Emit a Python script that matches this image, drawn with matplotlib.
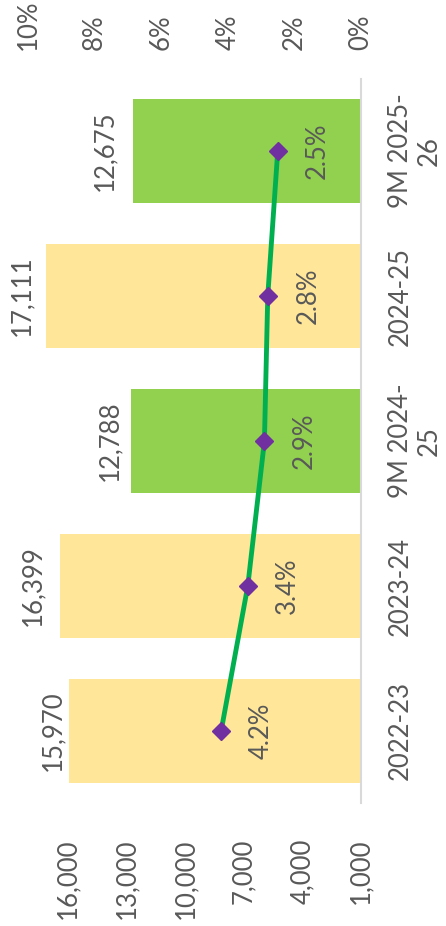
import matplotlib
matplotlib.use('Agg')
import matplotlib.pyplot as plt

# data
periods = ['2022-23', '2023-24', '9M 2024-\n25', '2024-25', '9M 2025-\n26']
values = [15970, 16399, 12788, 17111, 12675]
pct = [4.2, 3.4, 2.9, 2.8, 2.5]
value_ticks = [1000, 4000, 7000, 10000, 13000, 16000]
pct_ticks = [0, 2, 4, 6, 8, 10]

# style
bar_colors = ['#FFE699', '#FFE699', '#92D050', '#FFE699', '#92D050']
label_nudge = [-16, -28, -21, -25, -28]  # px, value labels beside bar ends
grey = '#595959'

plt.rcParams['font.family'] = ['Lato', 'DejaVu Sans']

fig = plt.figure(figsize=(4.46, 9.26), dpi=100)
ax = fig.add_axes([0.0628, 0.1323, 0.7466, 0.7829])
pos = list(range(len(periods)))

# chart is drawn turned a quarter turn: bars grow leftwards from the base line
ax.barh(pos, [v - value_ticks[0] for v in values], left=value_ticks[0],
        height=0.717, color=bar_colors)
ax.set_xlim(18050, value_ticks[0])
ax.set_ylim(-0.5, len(periods) - 0.5)
ax.set_xticks(value_ticks)
ax.set_xticklabels([f'{v:,}' for v in value_ticks], rotation=90)
ax.tick_params(axis='x', length=0, pad=25, labelsize=18.5, labelcolor=grey)
ax.yaxis.tick_right()
ax.set_yticks(pos)
ax.set_yticklabels(periods, rotation=90, va='center', ha='left',
                   multialignment='center')
ax.tick_params(axis='y', length=0, pad=19.5, labelsize=18.5, labelcolor=grey)
for s in ['left', 'top', 'bottom']:
    ax.spines[s].set_visible(False)
ax.spines['right'].set_color('#D9D9D9')
ax.spines['right'].set_linewidth(1.5)

for v, p, dx in zip(values, pos, label_nudge):
    ax.annotate(f'{v:,}', xy=(v, p), xytext=(dx, 0), textcoords='offset pixels',
                rotation=90, ha='center', va='center', fontsize=18.5, color=grey)

# percentage line on the second axis
ax2 = ax.twiny()
ax2.plot(pct, pos, color='#00B050', lw=3.5, marker='D', ms=8.7,
         mfc='#7030A0', mec='#7030A0', zorder=3)
ax2.set_xlim(pct_ticks[-1], pct_ticks[0])
ax2.set_xticks(pct_ticks)
ax2.set_xticklabels([f'{t}%' for t in pct_ticks], rotation=90)
ax2.tick_params(axis='x', length=0, pad=20.5, labelsize=18.5, labelcolor=grey)
for s in ax2.spines.values():
    s.set_visible(False)

for x, p in zip(pct, pos):
    ax2.annotate(f'{x}%', xy=(x, p), xytext=(40, 0), textcoords='offset pixels',
                 rotation=90, ha='center', va='center', fontsize=18.5, color=grey)

fig.savefig('out.png', dpi=100)
